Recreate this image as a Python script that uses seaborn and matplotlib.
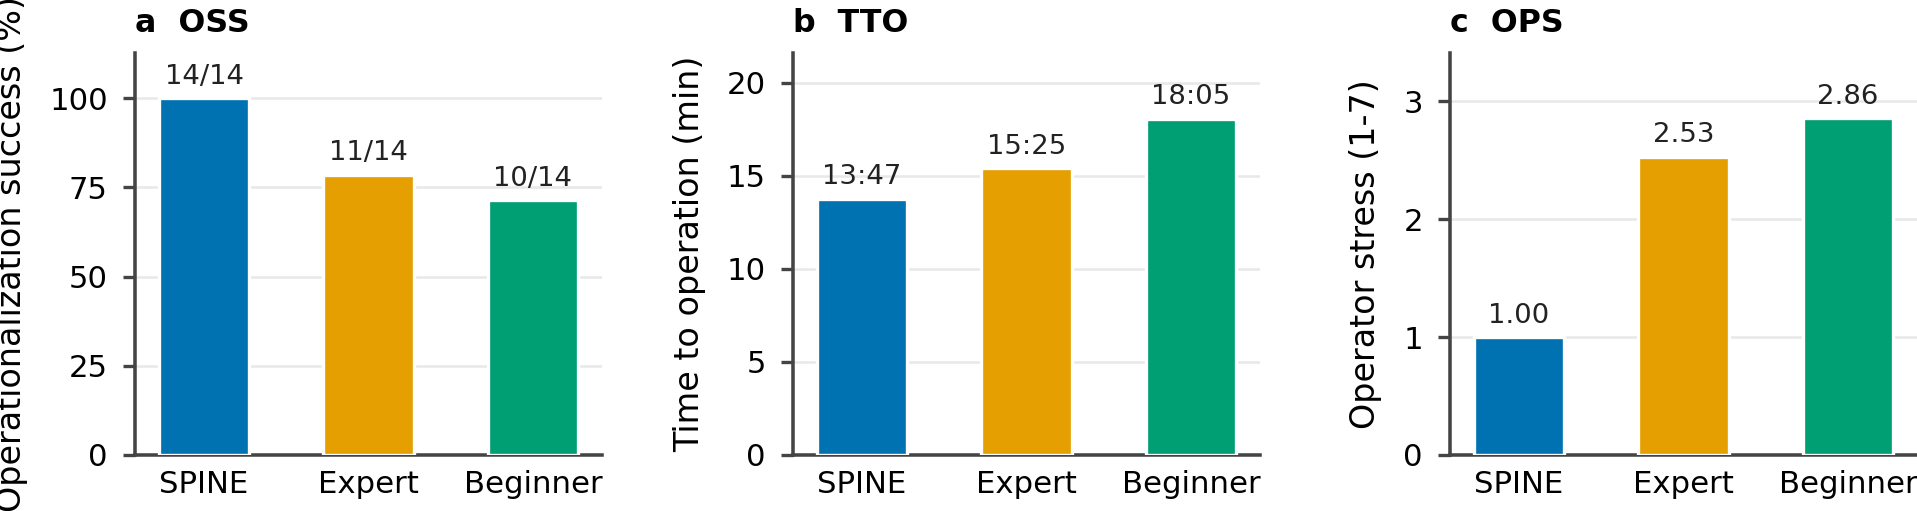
import matplotlib
matplotlib.use("Agg")
import matplotlib.pyplot as plt
import seaborn as sns
import pandas as pd

groups = ["SPINE", "Expert", "Beginner"]
colors = ["#0072B2", "#E69F00", "#009E73"]

oss_pct = [100.0, 78.57, 71.43]
oss_labels = ["14/14", "11/14", "10/14"]
tto_min = [13.78, 15.42, 18.08]
tto_labels = ["13:47", "15:25", "18:05"]
ops_score = [1.00, 2.53, 2.86]
ops_labels = ["1.00", "2.53", "2.86"]

oss_ticks = [0, 25, 50, 75, 100]
tto_ticks = [0, 5, 10, 15, 20]
ops_ticks = [0, 1, 2, 3]

sns.set_theme(style="white")
plt.rcParams["font.family"] = ["DejaVu Sans"]

W, H = 1917, 511
DPI = 300
fig = plt.figure(figsize=(W / DPI, H / DPI), dpi=DPI)

panels = [
    ("a  OSS", oss_pct, oss_labels, oss_ticks, 112.7, "Operationalization success (%)", 135),
    ("b  TTO", tto_min, tto_labels, tto_ticks, 21.6, "Time to operation (min)", 793),
    ("c  OPS", ops_score, ops_labels, ops_ticks, 3.41, "Operator stress (1-7)", 1450),
]

ax_w = 467 / W
ax_b = 1 - 455 / H
ax_h = (455 - 53) / H
spine_c = "#444444"
text_c = "#222222"

for title, vals, labs, ticks, ymax, ylabel, left_px in panels:
    ax = fig.add_axes([left_px / W, ax_b, ax_w, ax_h])
    df = pd.DataFrame({"group": groups, "value": vals})
    sns.barplot(data=df, x="group", y="value", hue="group", palette=colors,
                saturation=1, legend=False, width=0.55, edgecolor="white",
                linewidth=0.8, ax=ax, zorder=3)
    ax.set_xlim(-0.42, 2.42)
    ax.set_ylim(0, ymax)
    ax.set_yticks(ticks)
    ax.set_axisbelow(True)
    ax.yaxis.grid(True, color="#e8e8e8", linewidth=0.6, zorder=0)
    ax.xaxis.grid(False)
    for s in ["top", "right"]:
        ax.spines[s].set_visible(False)
    for s in ["left", "bottom"]:
        ax.spines[s].set_color(spine_c)
        ax.spines[s].set_linewidth(0.85)
    ax.tick_params(axis="y", length=3, width=0.8, color=spine_c, pad=3.5,
                   labelsize=7.4, labelcolor="black", left=True)
    ax.tick_params(axis="x", length=0, pad=3.5, labelsize=7.4, labelcolor="black")
    ax.set_xlabel("")
    ax.set_ylabel(ylabel, fontsize=8, color="black", labelpad=5)
    ax.set_title(title, loc="left", fontsize=7.6, fontweight="bold", pad=5,
                 color="black")
    for i, (v, t) in enumerate(zip(vals, labs)):
        ax.annotate(t, xy=(i, v), xytext=(0, 2), textcoords="offset points",
                    ha="center", va="bottom", fontsize=6.6, color=text_c)

fig.savefig("out.png", dpi=DPI)
